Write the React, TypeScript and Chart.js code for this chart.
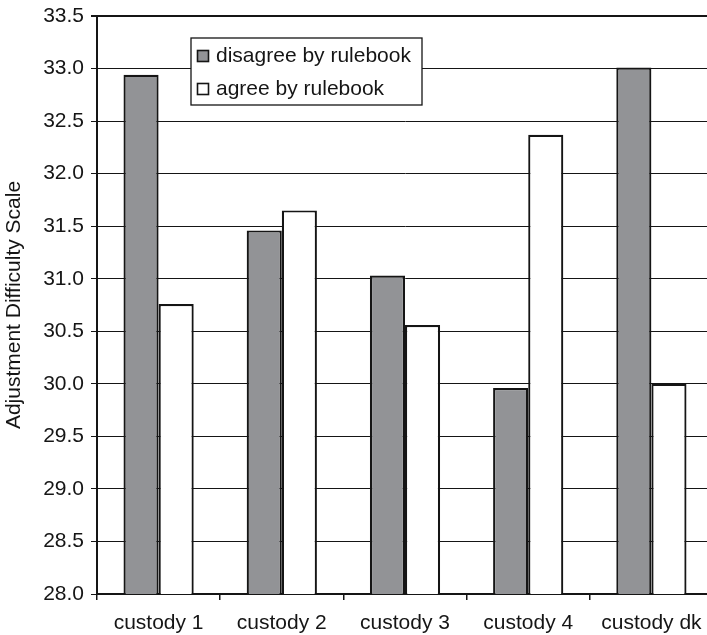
import React, { useEffect, useRef } from "react";
import { Chart, registerables } from "chart.js";

Chart.register(...registerables);

const categories = ["custody 1", "custody 2", "custody 3", "custody 4", "custody dk"];
const disagreeValues = [32.94, 31.46, 31.03, 29.96, 33.01];
const agreeValues = [30.76, 31.65, 30.56, 32.37, 30.0];
const seriesLabels = ["disagree by rulebook", "agree by rulebook"];
const yTitle = "Adjustment Difficulty Scale";

const FONT = '"Liberation Sans", Arial, Helvetica, sans-serif';
const INK = "#151515";
const GRAY = "#929396";

const legendPlugin = {
  id: "insetLegend",
  afterDraw(chart: any) {
    const ctx = chart.ctx as CanvasRenderingContext2D;
    ctx.save();
    const bx = 191, by = 38, bw = 231, bh = 67;
    ctx.fillStyle = "#ffffff";
    ctx.fillRect(bx, by, bw, bh);
    ctx.strokeStyle = INK;
    ctx.lineWidth = 1.3;
    ctx.strokeRect(bx, by, bw, bh);
    ctx.font = `21px ${FONT}`;
    ctx.textBaseline = "alphabetic";
    ctx.textAlign = "left";
    const rows = [62, 95];
    chart.data.datasets.forEach((ds: any, i: number) => {
      const base = rows[i];
      ctx.fillStyle = ds.backgroundColor;
      ctx.fillRect(197.5, base - 11.5, 11, 11);
      ctx.strokeStyle = INK;
      ctx.lineWidth = 1.6;
      ctx.strokeRect(197.5, base - 11.5, 11, 11);
      ctx.fillStyle = INK;
      ctx.fillText(ds.label, 216, base);
    });
    ctx.restore();
  },
};

export default function App() {
  const ref = useRef<HTMLCanvasElement | null>(null);

  useEffect(() => {
    if (!ref.current) return;
    Chart.defaults.font.family = FONT;
    const chart = new Chart(ref.current, {
      type: "bar",
      data: {
        labels: categories,
        datasets: [
          {
            label: seriesLabels[0],
            data: disagreeValues,
            backgroundColor: GRAY,
            borderColor: INK,
            borderWidth: 2.2,
            borderSkipped: false,
          },
          {
            label: seriesLabels[1],
            data: agreeValues,
            backgroundColor: "#ffffff",
            borderColor: INK,
            borderWidth: 2.2,
            borderSkipped: false,
          },
        ],
      },
      options: {
        responsive: false,
        animation: false,
        devicePixelRatio: 1,
        layout: { padding: { top: 16, right: 1, bottom: 0, left: 0 } },
        datasets: {
          bar: { categoryPercentage: 0.57, barPercentage: 1 },
        },
        plugins: {
          legend: { display: false },
          tooltip: { enabled: false },
          title: { display: false },
        },
        scales: {
          x: {
            offset: true,
            grid: {
              display: true,
              drawOnChartArea: false,
              drawTicks: true,
              tickLength: 6,
              offset: true,
              color: INK,
              lineWidth: 1.5,
            },
            border: { display: true, color: INK, width: 2 },
            ticks: {
              color: INK,
              font: { size: 21 },
              padding: 11,
              maxRotation: 0,
              autoSkip: false,
            },
            afterFit: (scale: any) => {
              scale.height = 41;
              scale.paddingLeft = 0;
              scale.paddingRight = 0;
            },
          },
          y: {
            min: 28,
            max: 33.5,
            ticks: {
              stepSize: 0.5,
              color: INK,
              font: { size: 21 },
              padding: 7,
              callback: (v: any) => Number(v).toFixed(1),
            },
            grid: {
              color: INK,
              lineWidth: (c: any) => (c.tick && c.tick.value === 33.5 ? 2 : 1),
              drawTicks: true,
              tickLength: 6,
            },
            border: { display: true, color: INK, width: 2 },
            title: {
              display: true,
              text: yTitle,
              color: INK,
              font: { size: 21 },
              padding: { top: 2, bottom: 0 },
            },
            afterFit: (scale: any) => {
              scale.width = 97;
              scale.paddingTop = 0;
              scale.paddingBottom = 0;
            },
          },
        },
      },
      plugins: [legendPlugin],
    });
    return () => chart.destroy();
  }, []);

  return (
    <div
      style={{
        position: "fixed",
        left: 0,
        top: 0,
        width: 707,
        height: 635,
        overflow: "hidden",
        background: "#ffffff",
      }}
    >
      <canvas ref={ref} width={714} height={635} style={{ display: "block" }} />
    </div>
  );
}
